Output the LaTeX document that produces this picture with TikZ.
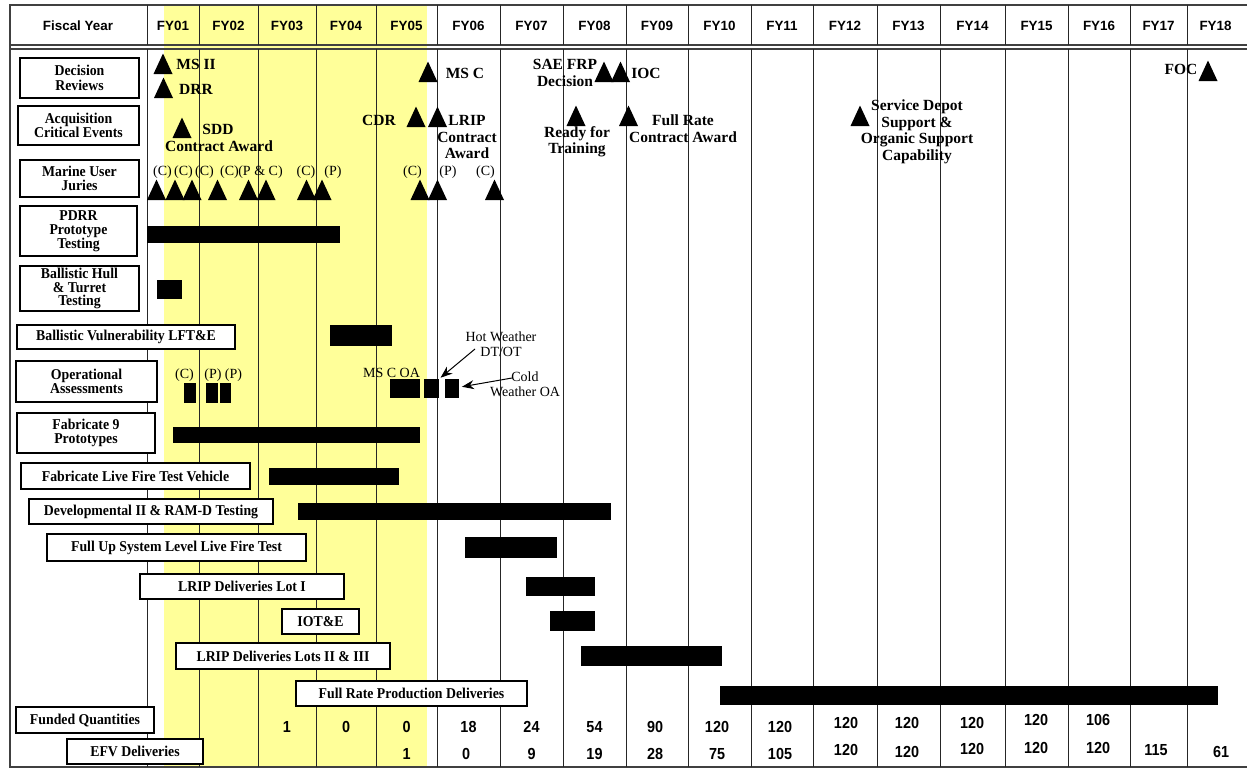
\documentclass[tikz,border=0pt]{standalone}
\usepackage{fontspec}
\setmainfont{Liberation Serif}
\setsansfont{Liberation Sans}
\newfontfamily\boxfont{Liberation Serif}[FakeStretch=0.92]
\newfontfamily\qtyfont{Liberation Sans}[FakeStretch=0.9]
\usetikzlibrary{arrows.meta}

\begin{document}
\begin{tikzpicture}[x=1pt, y=-1pt,
    %Option for arrows
    >={Stealth[length=12pt, width=9pt]},
    inner sep=0pt, outer sep=0pt,
    grid_line/.style={line width=0.9pt, black!85},
    frame_line/.style={line width=1.3pt, black!75},
    row_box/.style={draw, fill=white, line width=1.3pt, align=center,
        font=\boxfont\bfseries\fontsize{15}{#1}\selectfont},
    row_box/.default=14,
    bar/.style={fill=black, anchor=north west},
    ms_label/.style={align=center, font=\bfseries\fontsize{15.5}{16.5}\selectfont},
    note/.style={align=center, font=\fontsize{14}{15}\selectfont},
    hdr/.style={font=\sffamily\bfseries\fontsize{13.4}{14}\selectfont},
    qty/.style={font=\qtyfont\bfseries\fontsize{16}{16}\selectfont},
]
    % Colors
    \definecolor{fyyellow}{HTML}{FFFF99}

    \useasboundingbox (0,0) rectangle (1247,769);

    % Program years band
    \fill[fyyellow] (164,5) rectangle (427,767);

    % Frame
    \draw[frame_line] (1247,5) -- (10,5) -- (10,767) -- (1247,767);
    \draw[frame_line] (10,45) -- (1247,45) (10,49) -- (1247,49);
    \draw[grid_line] (147,5) -- (147,45) (147,49) -- (147,767);
    \foreach \x in {199,258,316,376,437,500,563,626,688,751,813,877,940,1005,1068,1130,1187}
        \draw[grid_line] (\x,5) -- (\x,45) (\x,49) -- (\x,767);

    % Header
    \node[hdr] (fy) at (78,26) {Fiscal Year};
    \foreach \n/\c in {01/173, 02/228.5, 03/287, 04/346, 05/406.5, 06/468.5,
        07/531.5, 08/594.5, 09/657, 10/719.5, 11/782, 12/845, 13/908.5,
        14/972.5, 15/1036.5, 16/1099, 17/1158.5, 18/1215.5}
        \node[hdr] (fy\n) at (\c,26) {FY\n};

    % Schedule bars
    \foreach \nm/\xa/\ya/\xb/\yb in {
        pdrr/147/226/340/243, hull/157/280/182/299, vuln/330/325/392/346,
        oac/184/383/196/403, oap/206/383/218/403, oapp/220/383/231/403,
        oa1/390/379/420/398, oa2/424/379/439/398, oa3/445/379/459/398,
        fab/173/427/420/443, lfv/269/468/399/485, dev/298/503/611/520,
        fuls/465/537/557/558, lot1/526/577/595/596, iote/550/611/595/631,
        lot23/581/646/722/666, frp/720/686/1218/705}
        \node[bar, minimum width=\xb-\xa, minimum height=\yb-\ya] (\nm) at (\xa,\ya) {};

    % Milestones
    \foreach \x/\y in {163/74, 163.5/98, 182/138, 428/82, 416/127, 437.5/127,
        604/82, 620.5/82, 576/126, 628.5/126, 860/126, 1208/81,
        156.5/200, 175/200, 192/200, 217.5/200, 248.5/200, 266/200,
        306.5/200, 322/200, 420/200, 437.5/200, 494.5/200}
        \fill (\x-9.5,\y) -- (\x+9.5,\y) -- (\x,\y-20.5) -- cycle;

    \node[ms_label] (msii) at (196,64) {MS II};
    \node[ms_label] (drr) at (196,89) {DRR};
    \node[ms_label] (sdd) at (218,129) {SDD};
    \node[ms_label] (sddaward) at (219,146) {Contract Award};
    \node[ms_label] (cdr) at (379,120) {CDR};
    \node[ms_label] (lrip) at (467,137) {LRIP\\Contract\\Award};
    \node[ms_label] (msc) at (465,73) {MS C};
    \node[ms_label] (saefrp) at (565,73) {SAE FRP\\Decision};
    \node[ms_label] (ioc) at (646,73) {IOC};
    \node[ms_label] (ready) at (577,141.5) {Ready for\\Training};
    \node[ms_label] (fullrate) at (683,128.5) {Full Rate\\Contract Award};
    \node[ms_label] (depot) at (917,132) {Service Depot\\Support \&\\Organic Support\\Capability};
    \node[ms_label] (foc) at (1181,69) {FOC};

    % Juries (C) and (P)
    \foreach \x/\t [count=\i] in {162.5/(C), 183.5/(C), 204.5/(C), 229.5/(C),
        260.5/(P \& C), 306/(C), 333/(P), 412.5/(C), 448/(P), 485.5/(C)}
        \node[note] (jury\i) at (\x,172) {\t};

    % Operational assessments
    \node[note] (oalc) at (184.5,375) {(C)};
    \node[note] (oalp) at (213,375) {(P)};
    \node[note] (oalpp) at (233.5,375) {(P)};
    \node[note] (msoa) at (391.5,373) {MS C OA};
    \node[note] (hot) at (501,344.5) {Hot Weather\\DT/OT};
    \node[note] (cold) at (525,384) {Cold\\Weather OA};

    \coordinate (hot_tail) at (475,349);
    \coordinate (cold_tail) at (512,378);
    \draw[->, line width=1pt, shorten >=2pt] (hot_tail) -- (oa2.north east);
    \draw[->, line width=1pt, shorten >=3pt] (cold_tail) -- (oa3);

    % Row titles
    \node[row_box=15, minimum width=119, minimum height=40] (decision) at (79.5,78) {Decision\\Reviews};
    \node[row_box=14.5, minimum width=121, minimum height=39] (acq) at (78.5,125.5) {Acquisition\\Critical Events};
    \node[row_box=14, minimum width=119, minimum height=37] (juries) at (79.5,178.5) {Marine User\\Juries};
    \node[row_box=14, minimum width=117, minimum height=50] (pdrrbox) at (78.5,231) {PDRR\\Prototype\\Testing};
    \node[row_box=13.8, minimum width=119, minimum height=45] (hullbox) at (79.5,288.5) {Ballistic Hull\\\& Turret\\Testing};
    \node[row_box, minimum width=218, minimum height=24] (vulnbox) at (126,337) {Ballistic Vulnerability LFT\&E};
    \node[row_box=14.5, minimum width=141, minimum height=41] (oabox) at (86.5,381.5) {Operational\\Assessments};
    \node[row_box=14, minimum width=138, minimum height=40] (fabbox) at (86,433) {Fabricate 9\\Prototypes};
    \node[row_box, minimum width=229, minimum height=26] (lfvbox) at (135.5,476) {Fabricate Live Fire Test Vehicle};
    \node[row_box, minimum width=244, minimum height=25] (devbox) at (151,511.5) {Developmental II \& RAM-D Testing};
    \node[row_box, minimum width=259, minimum height=27] (fulsbox) at (176.5,547.5) {Full Up System Level Live Fire Test};
    \node[row_box, minimum width=204, minimum height=25] (lot1box) at (242,586.5) {LRIP Deliveries Lot I};
    \node[row_box, minimum width=77, minimum height=25] (iotebox) at (320.5,621.5) {IOT\&E};
    \node[row_box, minimum width=214, minimum height=26] (lot23box) at (283,656) {LRIP Deliveries Lots II \& III};
    \node[row_box, minimum width=231, minimum height=25] (frpbox) at (411.5,693.5) {Full Rate Production Deliveries};
    \node[row_box, minimum width=138, minimum height=26] (fundbox) at (85,720) {Funded Quantities};
    \node[row_box, minimum width=136, minimum height=25] (efvbox) at (135,751.5) {EFV Deliveries};

    % Quantities
    \foreach \x/\y/\v [count=\i] in {287/727/1, 346/727/0, 406.5/727/0, 468.5/727/18,
        531.5/727/24, 594.5/727/54, 655/727/90, 717/727/120, 780/727/120,
        846/723/120, 907/723/120, 972/723/120, 1036/720/120, 1098/720/106}
        \node[qty] (fund\i) at (\x,\y) {\v};
    \foreach \x/\y/\v [count=\i] in {406.5/754/1, 466/754/0, 531.5/754/9, 594.5/754/19,
        655/754/28, 717/754/75, 780/754/105, 846/750/120, 907/752/120,
        972/749/120, 1036/748/120, 1098/748/120, 1156/750/115, 1221/752/61}
        \node[qty] (efv\i) at (\x,\y) {\v};
\end{tikzpicture}
\end{document}
